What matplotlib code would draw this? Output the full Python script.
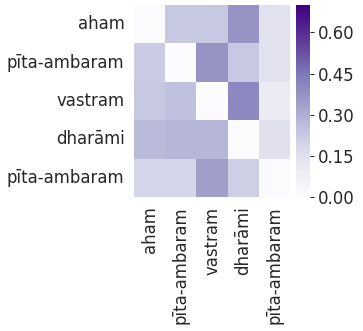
import matplotlib
matplotlib.use("Agg")
import matplotlib.pyplot as plt
import numpy as np
import seaborn as sns

labels = ["aham", "pīta-ambaram", "vastram", "dharāmi", "pīta-ambaram"]
row_aham = [0.01, 0.23, 0.23, 0.37, 0.14]
row_pita1 = [0.22, 0.00, 0.37, 0.23, 0.14]
row_vastram = [0.23, 0.25, 0.00, 0.40, 0.10]
row_dharami = [0.27, 0.28, 0.28, 0.00, 0.15]
row_pita2 = [0.19, 0.19, 0.34, 0.21, 0.01]
vmax = 0.70

weights = np.array([row_aham, row_pita1, row_vastram, row_dharami, row_pita2])

sns.set(font_scale=1.5)
plt.rcParams["font.family"] = ["DejaVu Sans"]

fig = plt.figure(figsize=(363 / 72, 331 / 72), dpi=72)
ax = fig.add_axes([134 / 363, 1 - 197 / 331, 156 / 363, 192 / 331])
cax = fig.add_axes([296 / 363, 1 - 197 / 331, 14 / 363, 192 / 331])

sns.heatmap(weights, ax=ax, cbar_ax=cax, cmap="Purples", vmin=0, vmax=vmax,
            xticklabels=labels, yticklabels=labels)
ax.set_yticklabels(labels, rotation=0)
ax.set_xticklabels(labels, rotation=90)
cax.set_yticks([0.0, 0.15, 0.30, 0.45, 0.60])
cax.set_yticklabels(["0.00", "0.15", "0.30", "0.45", "0.60"])
cax.tick_params(axis="y", length=4, width=1, color="#262626", right=True)

fig.savefig("out.png", dpi=72, facecolor="white")
